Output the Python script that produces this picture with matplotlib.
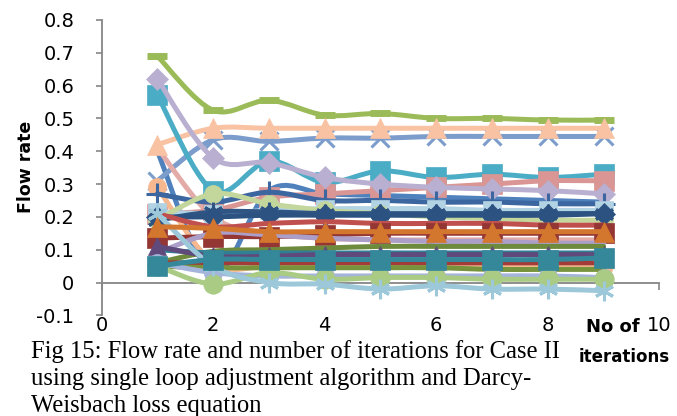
import matplotlib
matplotlib.use("Agg")
import matplotlib.pyplot as plt
from matplotlib.path import Path
from matplotlib.patches import PathPatch

# iteration number on x
iterations = [1, 2, 3, 4, 5, 6, 7, 8, 9]

# flow rate of each pipe
q_steel = [0.40, 0.03, 0.28, 0.27, 0.265, 0.26, 0.255, 0.25, 0.245]
q_blue_x = [0.31, 0.435, 0.43, 0.44, 0.44, 0.445, 0.445, 0.445, 0.445]
q_green_top = [0.69, 0.525, 0.555, 0.51, 0.515, 0.50, 0.50, 0.495, 0.495]
q_pink_line = [0.41, 0.20, 0.15, 0.135, 0.13, 0.13, 0.13, 0.13, 0.13]
q_peach_tri = [0.42, 0.47, 0.47, 0.47, 0.47, 0.47, 0.47, 0.47, 0.47]
q_aqua_sq = [0.57, 0.28, 0.37, 0.305, 0.34, 0.32, 0.33, 0.32, 0.33]
q_pink_sq = [0.21, 0.22, 0.26, 0.27, 0.28, 0.29, 0.30, 0.31, 0.31]
q_lav_dia = [0.62, 0.38, 0.365, 0.32, 0.30, 0.29, 0.285, 0.28, 0.27]
q_peach_circ = [0.29, 0.06, 0.05, 0.05, 0.05, 0.05, 0.05, 0.05, 0.05]
q_navy_plus = [0.27, 0.245, 0.275, 0.25, 0.25, 0.245, 0.245, 0.24, 0.24]
q_light_aqua = [0.215, 0.21, 0.22, 0.225, 0.225, 0.225, 0.22, 0.22, 0.22]
q_light_green = [0.19, 0.27, 0.24, 0.22, 0.21, 0.20, 0.195, 0.19, 0.19]
q_navy_star = [0.19, 0.215, 0.215, 0.21, 0.21, 0.21, 0.21, 0.21, 0.21]
q_navy_dia = [0.20, 0.20, 0.205, 0.205, 0.205, 0.205, 0.205, 0.205, 0.21]
q_red = [0.21, 0.17, 0.18, 0.185, 0.18, 0.18, 0.18, 0.175, 0.175]
q_dark_red = [0.135, 0.14, 0.14, 0.145, 0.15, 0.15, 0.15, 0.15, 0.15]
q_lav_line = [0.09, 0.15, 0.145, 0.135, 0.13, 0.125, 0.125, 0.12, 0.12]
q_olive = [0.06, 0.095, 0.10, 0.105, 0.11, 0.11, 0.11, 0.11, 0.11]
q_teal_line = [0.10, 0.09, 0.09, 0.09, 0.09, 0.09, 0.09, 0.09, 0.09]
q_purple_tri = [0.11, 0.08, 0.08, 0.085, 0.085, 0.085, 0.085, 0.085, 0.085]
q_red_low = [0.06, 0.06, 0.06, 0.06, 0.06, 0.06, 0.06, 0.06, 0.06]
q_olive_dark = [0.05, 0.045, 0.045, 0.045, 0.045, 0.045, 0.04, 0.04, 0.04]
q_peri_circ = [0.06, 0.03, 0.02, 0.02, 0.02, 0.02, 0.02, 0.02, 0.015]
q_lgreen_circ = [0.05, -0.005, 0.03, 0.01, 0.015, 0.015, 0.01, 0.01, 0.01]
q_lblue_star = [0.21, 0.05, 0.0, -0.005, -0.02, -0.01, -0.02, -0.02, -0.025]
q_orange_tri = [0.17, 0.165, 0.155, 0.155, 0.155, 0.155, 0.155, 0.155, 0.155]
q_teal_sq = [0.05, 0.07, 0.07, 0.07, 0.07, 0.07, 0.07, 0.07, 0.075]

caption_lines = ["Fig 15: Flow rate and number of iterations for Case II",
                 "using single loop adjustment algorithm and Darcy-",
                 "Weisbach loss equation"]

# (data, colour, marker, markersize) in drawing order
series = [
    (q_steel, "#4F81BD", None, 0),
    (q_blue_x, "#7C9CCB", "x", 13),
    (q_green_top, "#9BBB59", "_", 14),
    (q_pink_line, "#E2ABA8", None, 0),
    (q_peach_tri, "#F9C3A3", "^", 14),
    (q_aqua_sq, "#4BACC6", "s", 14),
    (q_pink_sq, "#D99694", "s", 14),
    (q_lav_dia, "#B9AFD0", "D", 11),
    (q_peach_circ, "#F6B98F", "o", 13),
    (q_navy_plus, "#3C66A0", "+", 16),
    (q_light_aqua, "#B2D3E4", "s", 13),
    (q_light_green, "#C3D69B", "o", 13),
    (q_navy_star, "#2F5585", (6, 2, 0), 14),
    (q_navy_dia, "#2C5282", "D", 11),
    (q_red, "#C0504D", None, 0),
    (q_dark_red, "#943634", "s", 14),
    (q_lav_line, "#AB9EC8", None, 0),
    (q_olive, "#6E8B3D", None, 0),
    (q_teal_line, "#2F7F95", None, 0),
    (q_purple_tri, "#604A7B", "^", 13),
    (q_red_low, "#A33B38", None, 0),
    (q_olive_dark, "#77933C", None, 0),
    (q_peri_circ, "#A5B4DA", "o", 13),
    (q_lgreen_circ, "#AACB84", "o", 14),
    (q_lblue_star, "#9DC8DA", (6, 2, 0), 14),
    (q_orange_tri, "#D4772E", "^", 14),
    (q_teal_sq, "#35879A", "s", 14),
]


def smooth_path(xs, ys):
    # Excel-like smoothed line through the points (bezier segments)
    pts = list(zip(xs, ys))
    verts = [pts[0]]
    codes = [Path.MOVETO]
    n = len(pts)
    for i in range(n - 1):
        p0 = pts[i - 1] if i > 0 else pts[i]
        p1 = pts[i]
        p2 = pts[i + 1]
        p3 = pts[i + 2] if i + 2 < n else pts[i + 1]
        c1 = (p1[0] + (p2[0] - p0[0]) / 6.0, p1[1] + (p2[1] - p0[1]) / 6.0)
        c2 = (p2[0] - (p3[0] - p1[0]) / 6.0, p2[1] - (p3[1] - p1[1]) / 6.0)
        verts += [c1, c2, p2]
        codes += [Path.CURVE4] * 3
    return Path(verts, codes)


fig = plt.figure(figsize=(6.77, 4.16), dpi=100)
ax = fig.add_axes([0.150, 0.242, 0.824, 0.71])

for k, (vals, col, mk, ms) in enumerate(series):
    z = 3 + k * 0.1
    ax.add_patch(PathPatch(smooth_path(iterations, vals), fc="none", ec=col,
                           lw=3.6, capstyle="round", joinstyle="round", zorder=z))
    if mk is not None:
        if mk in ("x", "+", "_") or isinstance(mk, tuple):
            mew = 5 if mk == "_" else 2.2
            ax.plot(iterations, vals, ls="none", marker=mk, ms=ms, color=col,
                    mew=mew, zorder=z + 0.05)
        else:
            ax.plot(iterations, vals, ls="none", marker=mk, ms=ms, color=col,
                    mec=col, mew=0.5, zorder=z + 0.05)

gray = "#868686"
ax.set_xlim(0, 10)
ax.set_ylim(-0.1, 0.8)
ax.set_xticks([0, 2, 4, 6, 8, 10])
ax.set_yticks([-0.1, 0, 0.1, 0.2, 0.3, 0.4, 0.5, 0.6, 0.7, 0.8])
ax.set_yticklabels(["-0.1", "0", "0.1", "0.2", "0.3", "0.4", "0.5", "0.6", "0.7", "0.8"])
ax.spines["top"].set_visible(False)
ax.spines["right"].set_visible(False)
ax.spines["left"].set_color(gray)
ax.spines["left"].set_linewidth(1.3)
ax.spines["bottom"].set_position(("data", 0))
ax.spines["bottom"].set_color(gray)
ax.spines["bottom"].set_linewidth(1.3)
ax.spines["bottom"].set_zorder(2)
ax.tick_params(axis="y", direction="out", length=4.5, width=1.2, color=gray,
               labelsize=14, pad=15)
ax.tick_params(axis="x", direction="out", length=5, width=1.2, color=gray,
               labelsize=14, pad=19)

fig.text(0.038, 0.6, "Flow rate", rotation=90, fontsize=12.5, fontweight="bold",
         ha="center", va="center")
fig.text(0.866, 0.215, "No of", fontsize=13, fontweight="bold", ha="left", va="center")
fig.text(0.854, 0.143, "iterations", fontsize=12, fontweight="bold", ha="left", va="center")

for i, line in enumerate(caption_lines):
    fig.text(31 / 677, 1 - (358 + 27 * i) / 416, line, family="Liberation Serif",
             fontsize=17.7, ha="left", va="baseline")

fig.savefig("out.png", dpi=100)
